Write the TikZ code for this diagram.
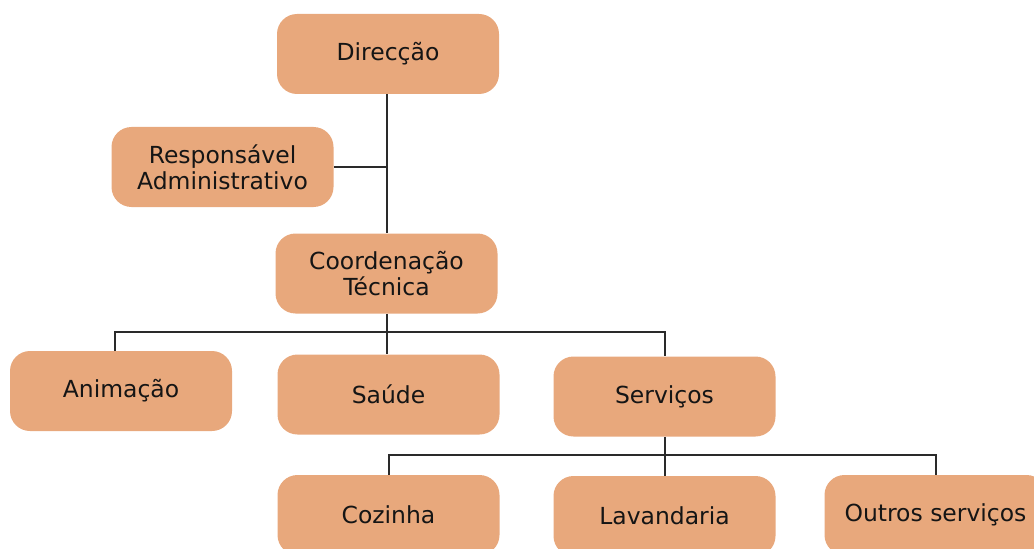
\documentclass[tikz,border=0pt]{standalone}
\usepackage{fontspec}
\setmainfont{DejaVu Sans}
\definecolor{boxfill}{HTML}{E8A87C}
\definecolor{linec}{HTML}{2A2A2A}
\definecolor{txt}{HTML}{151515}
\begin{document}
\begin{tikzpicture}[x=0.75pt,y=-0.75pt,
  orgbox/.style={rectangle, rounded corners=15pt, fill=boxfill, draw=none,
    minimum width=166.5pt, minimum height=60pt, align=center, inner sep=0pt,
    text=txt, font=\fontsize{17.6}{19.5}\selectfont},
  conn/.style={draw=linec, line width=1.5pt}]
\useasboundingbox (0,0) rectangle (1034,549);
\clip (0,0) rectangle (1034,549);
\node[orgbox] (dir) at (388,54) {\raisebox{-2pt}{Direcção}};
\node[orgbox] (resp) at (222.5,167) {Responsável\\Administrativo};
\node[orgbox] (coord) at (386.5,273.5) {Coordenação\\Técnica};
\node[orgbox] (anim) at (121,391) {Animação};
\node[orgbox] (saude) at (388.5,394.5) {Saúde};
\node[orgbox] (serv) at (664.5,396.5) {Serviços};
\node[orgbox] (coz) at (388.5,515) {Cozinha};
\node[orgbox] (lav) at (664.5,516) {Lavandaria};
\node[orgbox] (outros) at (935.5,515) {Outros serviços};
\coordinate (bus1) at (386.5,332);
\coordinate (bus2) at (663,455);
\coordinate (animtop) at (115,351);
\draw[conn] (dir.south -| coord.north) -- (coord.north);
\draw[conn] (resp.east) -- (resp.east -| coord.north);
\draw[conn] (coord.south) -- (bus1) -- (bus1 |- saude.north);
\draw[conn] (animtop) -- (bus1 -| animtop) -- (bus1 -| serv.north) -- (serv.north);
\draw[conn] (serv.south) -- (bus2 -| serv.south);
\draw[conn] (coz.north) -- (bus2 -| coz.north) -- (bus2 -| outros.north) -- (outros.north);
\draw[conn] (bus2 -| lav.north) -- (lav.north);
\end{tikzpicture}
\end{document}
